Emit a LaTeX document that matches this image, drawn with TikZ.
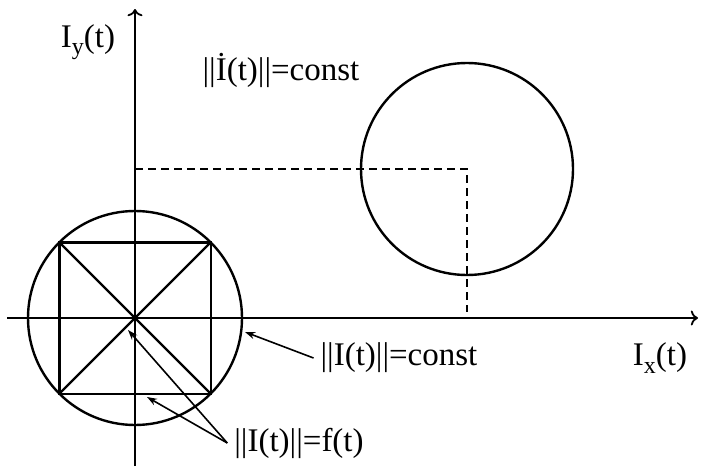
\documentclass[tikz,border=0pt]{standalone}
\usepackage{fontspec}
\setmainfont{Liberation Serif}
\usetikzlibrary{arrows.meta}

\newcommand{\lowsub}[1]{\raisebox{-0.5ex}{\fontsize{12}{12}\selectfont #1}}

\begin{document}
\begin{tikzpicture}[x=0.5pt,y=-0.5pt,
  lbl/.style={font=\fontsize{16.5}{19}\selectfont},
  curve/.style={line width=1.2pt},
  pointer/.style={-{Stealth[length=5pt,width=3.5pt]},line width=0.8pt}]

\useasboundingbox (0,0) rectangle (701,466);

% axes
\coordinate (O) at (135,318);
\coordinate (xl) at (7,318);
\coordinate (xr) at (698,318);
\coordinate (yb) at (135,466);
\coordinate (yt) at (135,9);
\draw[->, line width=0.9pt] (xl) -- (xr);
\draw[->, line width=0.9pt] (yb) -- (yt);

% circle with inscribed square
\draw[curve] (O) circle (107);
\coordinate (sq1) at (59.3,242.3);
\coordinate (sq2) at (210.7,242.3);
\coordinate (sq3) at (210.7,393.7);
\coordinate (sq4) at (59.3,393.7);
\draw[curve] (sq1) -- (sq2) -- (sq3) -- (sq4) -- cycle;
\draw[curve] (sq1) -- (sq3);
\draw[curve] (sq2) -- (sq4);

% shifted circle
\coordinate (C) at (467,169);
\draw[curve] (C) circle (106);
\coordinate (cy) at (135,169);
\coordinate (cx) at (467,312);
\draw[dashed, dash pattern=on 4pt off 2.5pt, line width=0.9pt] (cy) -- (C) -- (cx);

% labels
\node[lbl] (iy) at (88,42) {I\lowsub{y}(t)};
\node[lbl] (ix) at (660,358) {I\lowsub{x}(t)};
\node[lbl] (dotconst) at (281,70) {||\.{I}(t)||=const};
\node[lbl] (normconst) at (399,358) {||I(t)||=const};
\node[lbl] (normf) at (299,443) {||I(t)||=f(t)};

% pointers
\coordinate (onrim) at (245,332);
\coordinate (oncentre) at (128,330);
\coordinate (onside) at (147,397);
\draw[pointer] (normconst.west) -- (onrim);
\draw[pointer] (normf.west) -- (oncentre);
\draw[pointer] (normf.west) -- (onside);

\end{tikzpicture}
\end{document}
